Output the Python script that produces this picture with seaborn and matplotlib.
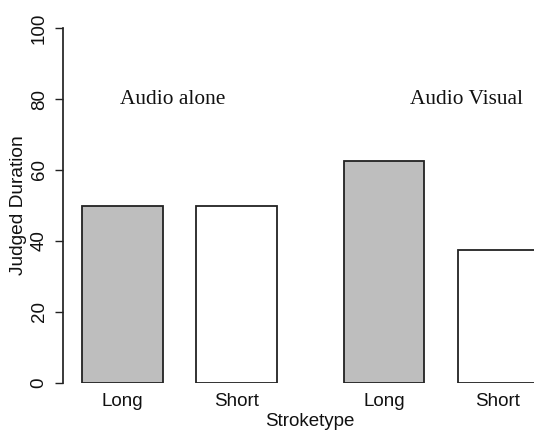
import pandas as pd
import matplotlib
matplotlib.use("Agg")
import matplotlib.pyplot as plt
import seaborn as sns

# Data
conditions = ["Audio alone", "Audio alone", "Audio Visual", "Audio Visual"]
stroketype = ["Long", "Short", "Long", "Short"]
duration = [50, 50, 62.5, 37.5]

data = pd.DataFrame({"Condition": conditions, "Stroketype": stroketype, "Duration": duration})

sns.set_theme(style="ticks")
plt.rcParams["font.family"] = ["Liberation Sans", "DejaVu Sans"]
plt.rcParams["text.color"] = "#111111"
plt.rcParams["axes.labelcolor"] = "#111111"

fig = plt.figure(figsize=(5.34, 4.30), dpi=100)
ax = fig.add_axes([63 / 534, 47 / 430, 1 - 63 / 534, 355 / 430])

sns.barplot(data=data, x="Condition", y="Duration", hue="Stroketype",
            palette={"Long": "#bebebe", "Short": "white"},
            edgecolor="#222222", linewidth=1.3, width=0.872, gap=0.29,
            legend=False, ax=ax)

# tick labels at each bar
centers = sorted([p.get_x() + p.get_width() / 2 for p in ax.patches if p.get_height() > 0])
ax.set_xticks(centers)
ax.set_xticklabels(["Long", "Short", "Long", "Short"], fontsize=13.5)
ax.tick_params(axis="x", length=0, pad=7, labelcolor="#111111")

ax.set_xlim(-0.4455, 1.3556)
ax.set_ylim(0, 100)
ax.set_yticks([0, 20, 40, 60, 80, 100])
ax.set_yticklabels(["0", "20", "40", "60", "80", "100"], rotation=90, va="center", fontsize=13.5)
ax.tick_params(axis="y", length=6, width=1, pad=5, color="#222222", labelcolor="#111111")

sns.despine(ax=ax, bottom=True)
ax.spines["left"].set_color("#222222")
ax.spines["left"].set_bounds(0, 100)

ax.set_ylabel("Judged Duration", fontsize=13.8, va="center")
ax.set_xlabel("Stroketype", fontsize=13.5)
ax.xaxis.set_label_coords(0.524, -0.108)
ax.xaxis.label.set_va("center")
ax.yaxis.set_label_coords(-0.094, 0.5)

ax.text(-0.025, 80, "Audio alone", family="Liberation Serif", fontsize=15.4, ha="center", va="center")
ax.text(1.096, 80, "Audio Visual", family="Liberation Serif", fontsize=15.4, ha="center", va="center")

plt.savefig("out.png", dpi=100)
plt.close()
